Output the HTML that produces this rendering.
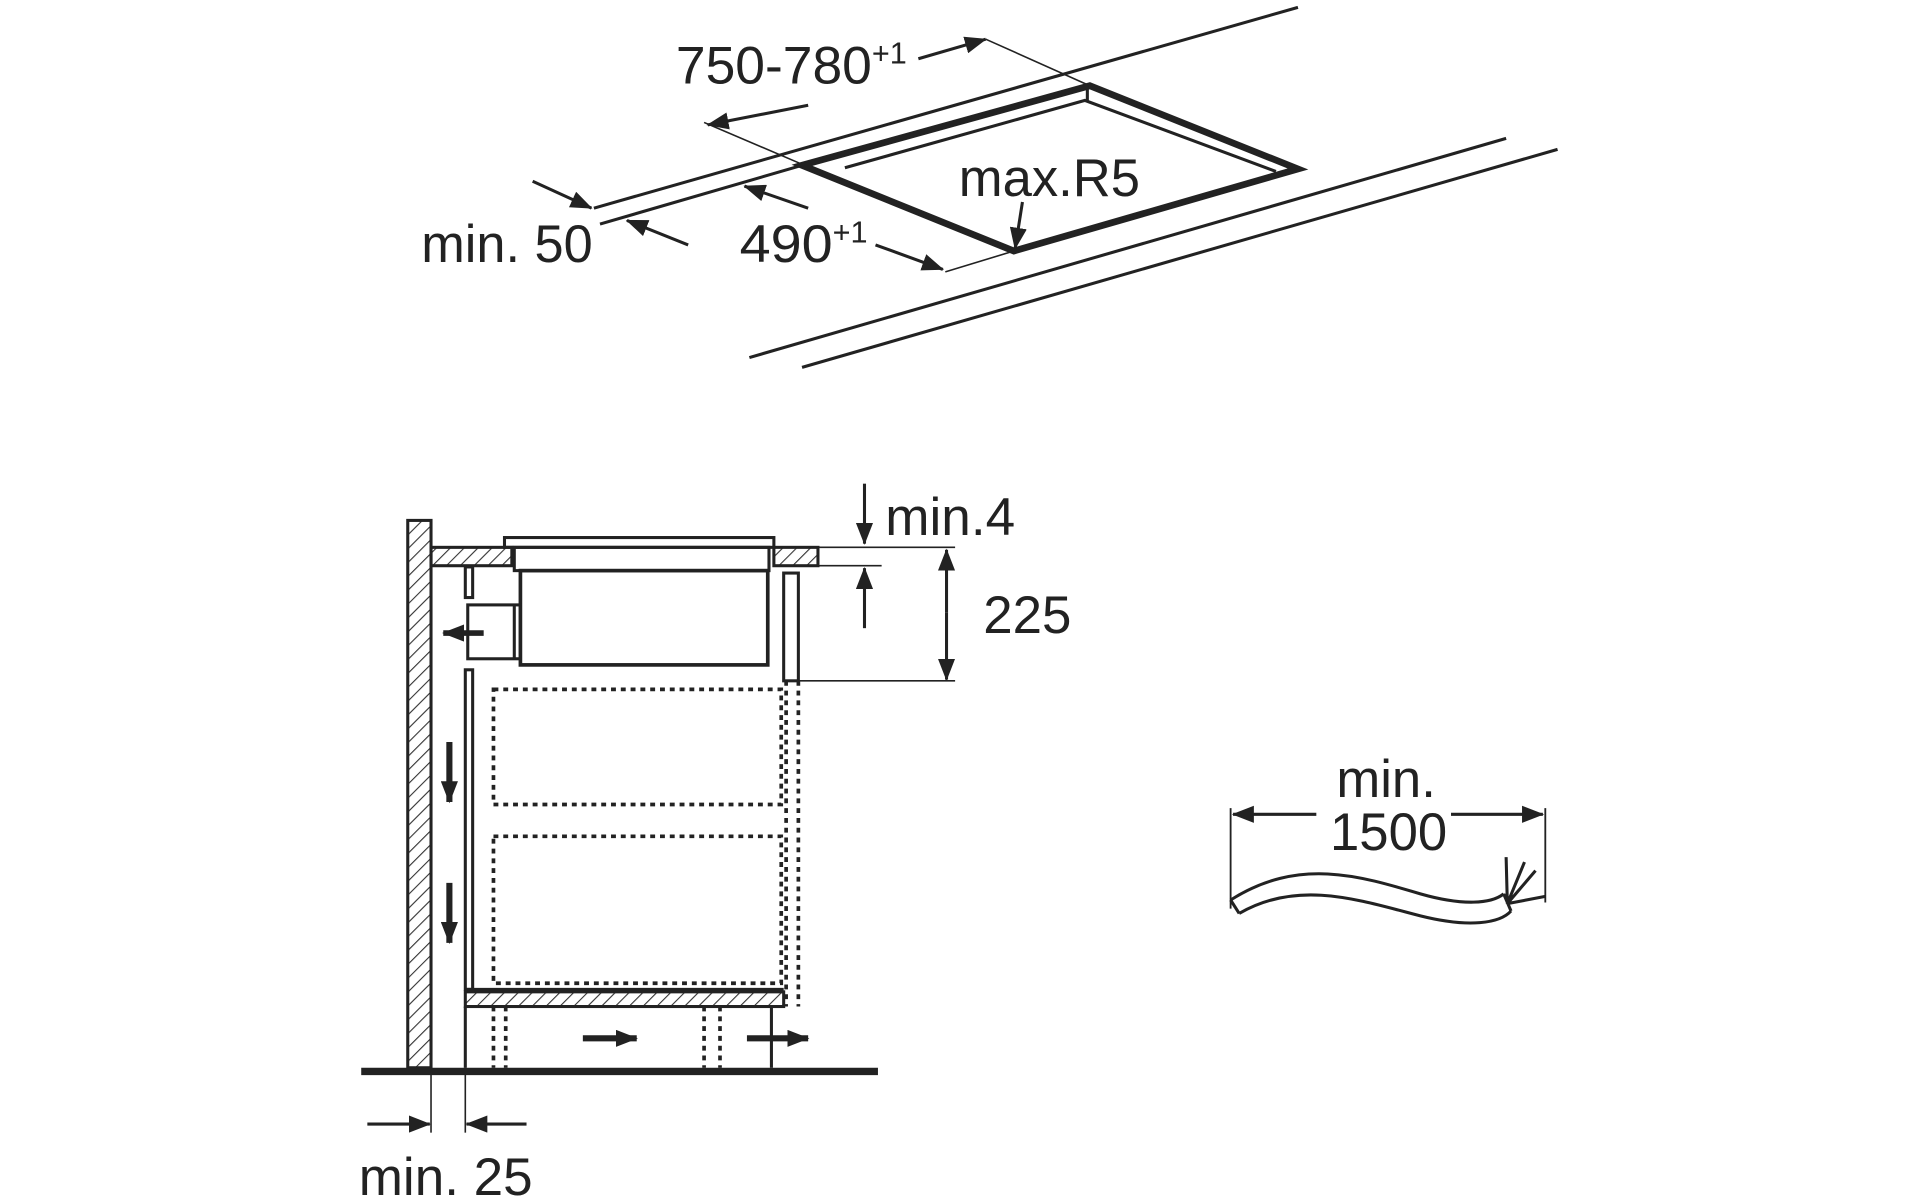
<!DOCTYPE html>
<html><head><meta charset="utf-8"><style>html,body{margin:0;padding:0;background:#fff}svg{display:block}</style></head><body>
<svg width="1920" height="1200" viewBox="0 0 1568 980" xmlns="http://www.w3.org/2000/svg">
<defs>
<marker id="b" markerWidth="18" markerHeight="14" refX="17" refY="7" orient="auto" markerUnits="userSpaceOnUse" viewBox="0 0 18 14"><path d="M0,0L18,7L0,14z" fill="#222"/></marker>
<pattern id="h" width="8" height="8" patternUnits="userSpaceOnUse" patternTransform="rotate(45)"><line x1="0" y1="0" x2="0" y2="8" stroke="#333" stroke-width="1.8"/></pattern>
</defs>
<g fill="none" stroke="#222" stroke-width="2.5">
<line x1="485" y1="170" x2="1060" y2="6"/>
<line x1="490" y1="183" x2="655" y2="135"/>
<line x1="612" y1="292" x2="1230" y2="113"/>
<line x1="655" y1="300" x2="1272" y2="122"/>
<path d="M655,135L890,70L1060,138L828,205Z" stroke-width="5.5"/>
<path d="M690,137L886,82L1042,140" stroke-width="2.5"/>
<line x1="888" y1="71" x2="888" y2="82"/>
<line x1="575" y1="100" x2="657" y2="135" stroke-width="1.3"/>
<line x1="805" y1="32" x2="890" y2="70" stroke-width="1.3"/>
<line x1="828" y1="205" x2="772" y2="222" stroke-width="1.3"/>
<line x1="750" y1="48" x2="805" y2="32" marker-end="url(#b)"/>
<line x1="660" y1="86" x2="578" y2="102" marker-end="url(#b)"/>
<line x1="715" y1="200" x2="770" y2="220" marker-end="url(#b)"/>
<line x1="660" y1="170" x2="608" y2="152" marker-end="url(#b)"/>
<line x1="435" y1="148" x2="483" y2="170" marker-end="url(#b)"/>
<line x1="562" y1="200" x2="512" y2="180" marker-end="url(#b)"/>
<line x1="835" y1="165" x2="829" y2="203" marker-end="url(#b)"/>
<rect x="333" y="425" width="19" height="447" fill="url(#h)"/>
<rect x="352" y="447" width="66" height="15" fill="url(#h)"/>
<rect x="632" y="447" width="36" height="15" fill="url(#h)"/>
<rect x="412" y="439" width="220" height="8"/>
<rect x="420" y="447" width="208" height="19"/>
<rect x="425" y="466" width="202" height="77" stroke-width="3"/>
<rect x="382" y="494" width="43" height="44"/>
<line x1="420" y1="494" x2="420" y2="538"/>
<rect x="380" y="463" width="6" height="25"/>
<rect x="640" y="468" width="12" height="88"/>
<line x1="668" y1="447" x2="780" y2="447" stroke-width="1.3"/>
<line x1="668" y1="462" x2="720" y2="462" stroke-width="1.3"/>
<line x1="652" y1="556" x2="780" y2="556" stroke-width="1.3"/>
<line x1="706" y1="395" x2="706" y2="444" marker-end="url(#b)"/>
<line x1="706" y1="513" x2="706" y2="464" marker-end="url(#b)"/>
<line x1="773" y1="500" x2="773" y2="449" marker-end="url(#b)"/>
<line x1="773" y1="500" x2="773" y2="555" marker-end="url(#b)"/>
<line x1="395" y1="517" x2="362" y2="517" stroke-width="4.5" marker-end="url(#b)"/>
<rect x="380" y="547" width="6" height="261"/>
<line x1="380" y1="808" x2="640" y2="808"/>
<rect x="380" y="810" width="260" height="12" fill="url(#h)"/>
<g stroke-dasharray="4,4" stroke-width="3">
<rect x="403" y="563" width="235" height="94"/>
<rect x="403" y="683" width="235" height="120"/>
<line x1="642" y1="556" x2="642" y2="822"/>
<line x1="652" y1="556" x2="652" y2="822"/>
<line x1="403" y1="822" x2="403" y2="872"/>
<line x1="413" y1="822" x2="413" y2="872"/>
<line x1="575" y1="822" x2="575" y2="872"/>
<line x1="588" y1="822" x2="588" y2="872"/>
</g>
<line x1="380" y1="822" x2="380" y2="872"/>
<line x1="630" y1="822" x2="630" y2="872"/>
<line x1="476" y1="848" x2="520" y2="848" stroke-width="5" marker-end="url(#b)"/>
<line x1="610" y1="848" x2="660" y2="848" stroke-width="5" marker-end="url(#b)"/>
<line x1="367" y1="606" x2="367" y2="655" stroke-width="5" marker-end="url(#b)"/>
<line x1="367" y1="721" x2="367" y2="770" stroke-width="5" marker-end="url(#b)"/>
<line x1="295" y1="875" x2="717" y2="875" stroke-width="6"/>
<line x1="352" y1="872" x2="352" y2="925" stroke-width="1.3"/>
<line x1="380" y1="872" x2="380" y2="925" stroke-width="1.3"/>
<line x1="300" y1="918" x2="351" y2="918" marker-end="url(#b)"/>
<line x1="430" y1="918" x2="381" y2="918" marker-end="url(#b)"/>
<line x1="1005" y1="660" x2="1005" y2="742" stroke-width="1.5"/>
<line x1="1262" y1="660" x2="1262" y2="737" stroke-width="1.5"/>
<line x1="1075" y1="665" x2="1007" y2="665" marker-end="url(#b)"/>
<line x1="1185" y1="665" x2="1260" y2="665" marker-end="url(#b)"/>
<path d="M1005,735C1060,700 1110,715 1160,730C1195,740 1218,738 1228,730"/>
<path d="M1012,746C1060,718 1110,735 1160,748C1200,758 1225,754 1234,744"/>
<line x1="1005" y1="735" x2="1012" y2="746"/>
<path d="M1228,730L1234,744M1231,738L1230,700M1231,738L1245,704M1231,738L1254,711M1231,738L1262,732"/>
</g>
<g font-family="Liberation Sans, sans-serif" fill="#222" font-size="43">
<text x="552" y="68" textLength="160" lengthAdjust="spacingAndGlyphs">750-780</text><text x="712" y="52" font-size="25">+1</text>
<text x="783" y="160" textLength="148" lengthAdjust="spacingAndGlyphs">max.R5</text>
<text x="604" y="214" textLength="76" lengthAdjust="spacingAndGlyphs">490</text><text x="680" y="198" font-size="25">+1</text>
<text x="344" y="214" textLength="140" lengthAdjust="spacingAndGlyphs">min. 50</text>
<text x="723" y="437" textLength="106" lengthAdjust="spacingAndGlyphs">min.4</text>
<text x="803" y="517" textLength="72" lengthAdjust="spacingAndGlyphs">225</text>
<text x="293" y="976" textLength="142" lengthAdjust="spacingAndGlyphs">min. 25</text>
<text x="1132" y="651" text-anchor="middle">min.</text>
<text x="1134" y="694" text-anchor="middle">1500</text>
</g>
</svg>
</body></html>
